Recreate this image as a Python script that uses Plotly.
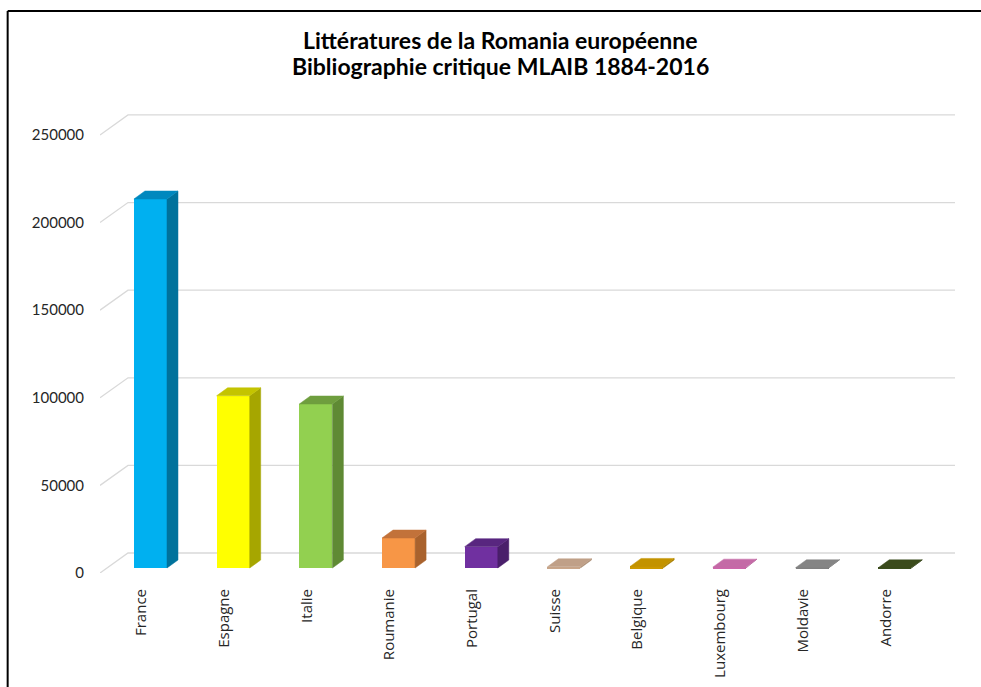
import plotly.graph_objects as go

# ---- data ----
categories = ["France", "Espagne", "Italie", "Roumanie", "Portugal",
              "Suisse", "Belgique", "Luxembourg", "Moldavie", "Andorre"]
values = [210600, 98300, 93600, 17100, 12200, 700, 900, 500, 150, 100]
front_colors = ["#00B0F0", "#FFFF00", "#92D050", "#F79646", "#7030A0",
                "#C9A68A", "#CC9900", "#CC66AA", "#808080", "#3D4F1E"]
side_colors = ["#00729C", "#A6A600", "#5F8A34", "#A9622D", "#4A1F6B",
               "#A88A70", "#A87E00", "#A45088", "#6A6A6A", "#2C3A15"]
top_colors = ["#0088BE", "#C4C400", "#6F9E3E", "#C2723A", "#58267F",
              "#C0A088", "#C39300", "#C46AA6", "#858585", "#3B4B1C"]
ytick_vals = [0, 50000, 100000, 150000, 200000, 250000]
ytick_text = ["0", "50000", "100000", "150000", "200000", "250000"]
title_lines = ["Littératures de la Romania européenne",
               "Bibliographie critique MLAIB 1884-2016"]

# ---- 3D projection constants (styling) ----
DX_FULL = 0.3386      # full floor depth in x units
DY_FULL = 11415       # full floor depth in y units
BAR_DX = 0.133        # bar depth in x units
BAR_DY = 4566         # bar depth in y units
BAR_BASE = 2850       # bar front base (depth 0.25)
BAR_OFF = 0.11        # bar center offset
BAR_W = 0.40
n = len(categories)
x0, x1 = -0.5, n - 0.5

fig = go.Figure()

# gridlines (back wall + floor diagonal), drawn below the bars
for v in ytick_vals:
    path = "M {a},{b} L {c},{d} L {e},{d}".format(
        a=x0, b=v, c=x0 + DX_FULL, d=v + DY_FULL, e=x1 + DX_FULL)
    fig.add_shape(type="path", path=path, xref="x", yref="y",
                  layer="below", line=dict(color="#D9D9D9", width=1.3))

# front faces
xs = [i + BAR_OFF for i in range(n)]
fig.add_trace(go.Bar(x=xs, y=values, base=[BAR_BASE] * n, width=BAR_W,
                     marker=dict(color=front_colors, line=dict(width=0)),
                     hoverinfo="skip", showlegend=False))

# side and top faces
for i, v in enumerate(values):
    xl = xs[i] - BAR_W / 2
    xr = xs[i] + BAR_W / 2
    b = BAR_BASE
    t = BAR_BASE + v
    fig.add_trace(go.Scatter(
        x=[xr, xr + BAR_DX, xr + BAR_DX, xr, xr],
        y=[b, b + BAR_DY, t + BAR_DY, t, b],
        fill="toself", fillcolor=side_colors[i], mode="lines",
        line=dict(width=0.5, color=side_colors[i]),
        hoverinfo="skip", showlegend=False))
    fig.add_trace(go.Scatter(
        x=[xl, xr, xr + BAR_DX, xl + BAR_DX, xl],
        y=[t, t, t + BAR_DY, t + BAR_DY, t],
        fill="toself", fillcolor=top_colors[i], mode="lines",
        line=dict(width=0.5, color=top_colors[i]),
        hoverinfo="skip", showlegend=False))

# frame (black border at top and left)
fig.add_shape(type="line", xref="paper", yref="paper",
              x0=-0.108, y0=-0.3, x1=-0.108, y1=1.219,
              line=dict(color="black", width=2))
fig.add_shape(type="line", xref="paper", yref="paper",
              x0=-0.108, y0=1.219, x1=1.1, y1=1.219,
              line=dict(color="black", width=2))

# title
for k, line in enumerate(title_lines):
    fig.add_annotation(text="<b>" + line + "</b>", xref="paper", yref="paper",
                       x=(500 - 100) / 855, y=(573 - (40 + 26 * k)) / 461,
                       xanchor="center", yanchor="middle", showarrow=False,
                       font=dict(family="Lato", size=23, color="black"))

fig.update_layout(
    width=981, height=687,
    margin=dict(l=100, r=26, t=112, b=114, autoexpand=False),
    paper_bgcolor="white", plot_bgcolor="white",
    font=dict(family="Lato", color="#404040"),
    bargap=0, hovermode=False,
    xaxis=dict(range=[x0, x1 + DX_FULL], tickmode="array",
               tickvals=list(range(n)), ticktext=categories,
               tickangle=-90, showgrid=False, zeroline=False,
               showline=False, ticks="", ticklabelstandoff=12,
               automargin=False,
               tickfont=dict(family="Open Sans", size=15, color="#262626")),
    yaxis=dict(range=[0, 263100], tickmode="array",
               tickvals=ytick_vals, ticktext=ytick_text,
               showgrid=False, zeroline=False, showline=False,
               ticks="", ticklabelstandoff=15, automargin=False,
               tickfont=dict(size=15, color="#262626")),
)

fig.write_html("out.html", config={"displayModeBar": False},
               post_script="document.body.style.margin='0';")
